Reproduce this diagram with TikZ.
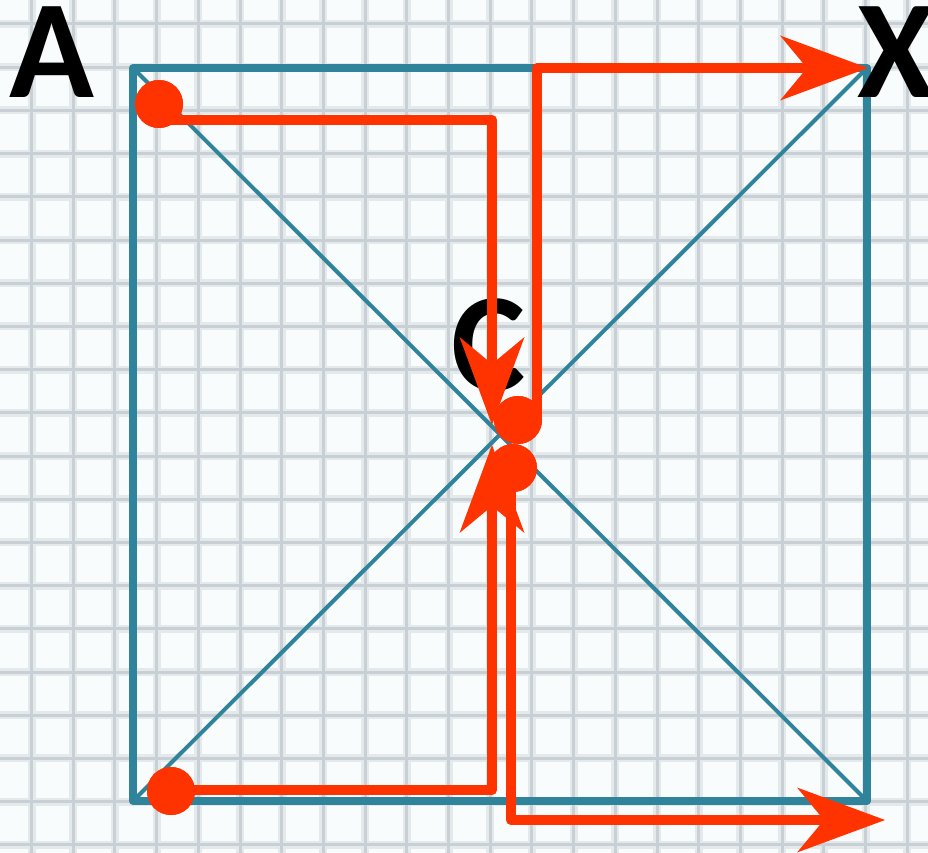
\documentclass[tikz,border=0pt]{standalone}
\usepackage{fontspec}
\setmainfont{Carlito}
\usetikzlibrary{arrows.meta}
\definecolor{teal1}{RGB}{47,132,155}
\definecolor{redo}{RGB}{255,51,0}
\definecolor{gridc}{RGB}{200,207,213}
\definecolor{gridh}{RGB}{228,233,236}
\definecolor{paper}{RGB}{248,252,253}
\begin{document}
\begin{tikzpicture}[x=1pt,y=-1pt,
  gridhalo/.style={draw=gridh,line width=8pt},
  gridline/.style={draw=gridc,line width=3pt},
  frame/.style={draw=teal1,line width=8pt,line join=round},
  diag/.style={draw=teal1,line width=4pt},
  route/.style={draw=redo,line width=10pt,line join=round},
  tipA/.style={-{Stealth[length=88pt,width=65pt,inset=27pt,line width=0pt]}},
  dot/.style={circle,fill=redo,minimum size=48pt,inner sep=0pt},
  lbl/.style={font=\fontsize{140}{140}\selectfont\bfseries,inner sep=0pt,anchor=base}]
\useasboundingbox (0,0) rectangle (928,853);
\clip (0,0) rectangle (928,853);
\fill[paper] (0,0) rectangle (928,853);
% grid paper
\foreach \k in {0,...,21} {
  \draw[gridhalo] ({31.5+41.7*\k},0) -- ({31.5+41.7*\k},853);
}
\foreach \k in {0,...,19} {
  \draw[gridhalo] (0,{24+43.2*\k}) -- (928,{24+43.2*\k});
}
\foreach \k in {0,...,21} {
  \draw[gridline] ({31.5+41.7*\k},0) -- ({31.5+41.7*\k},853);
}
\foreach \k in {0,...,19} {
  \draw[gridline] (0,{24+43.2*\k}) -- (928,{24+43.2*\k});
}
% square and diagonals
\coordinate (tl) at (133,68);
\coordinate (tr) at (867,68);
\coordinate (bl) at (133,801);
\coordinate (br) at (867,801);
\draw[diag] (tl) -- (br);
\draw[diag] (bl) -- (tr);
\draw[frame] (tl) rectangle (br);
% labels
\node[lbl] (A) at (52,98) {A};
\node[lbl] (X) at (896,98) {X};
\node[lbl] (C) at (489,390) {C};
% dots
\node[dot] (d1) at (159,104) {};
\node[dot] (d2) at (518,420) {};
\node[dot] (d3) at (171,791) {};
\node[dot] (d4) at (513,468) {};
% route coordinates
\coordinate (p1s) at (159,120);
\coordinate (p1c) at (492,120);
\coordinate (p1e) at (492,425);
\coordinate (p2s) at (537,420);
\coordinate (p2c) at (537,68);
\coordinate (p2e) at (868,68);
\coordinate (p3s) at (171,790);
\coordinate (p3c) at (492,790);
\coordinate (p3e) at (492,445);
\coordinate (p4s) at (511,468);
\coordinate (p4c) at (511,820);
\coordinate (p4e) at (885,820);
\draw[route,tipA] (p1s) -- (p1c) -- (p1e);
\draw[route,tipA] (p2s) -- (p2c) -- (p2e);
\draw[route,tipA] (p3s) -- (p3c) -- (p3e);
\draw[route,tipA] (p4s) -- (p4c) -- (p4e);
% redraw dots on top
\fill[redo] (d1) circle (24);
\fill[redo] (d2) circle (24);
\fill[redo] (d3) circle (24);
\fill[redo] (d4) circle (24);
\end{tikzpicture}
\end{document}
